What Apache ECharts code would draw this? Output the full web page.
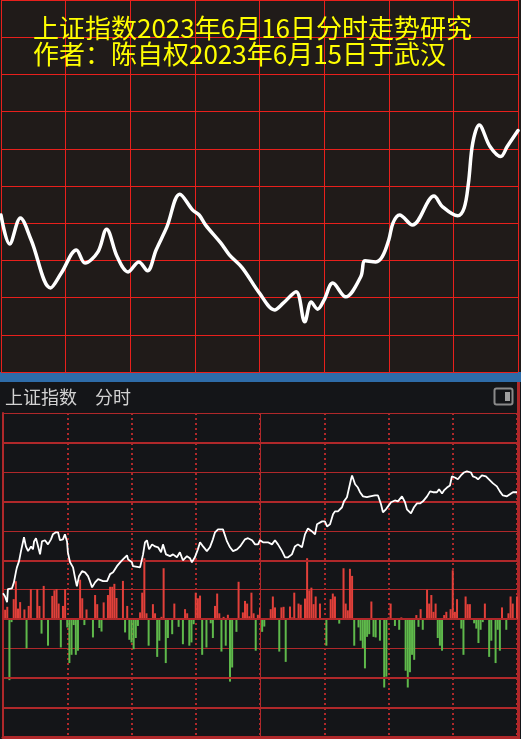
<!DOCTYPE html>
<html>
<head>
<meta charset="UTF-8" />
<title>上证指数分时</title>
<script src="https://cdn.jsdelivr.net/npm/echarts@6/dist/echarts.min.js"></script>
<style>
  html, body { margin: 0; padding: 0; background: #141518; }
  #chart { width: 521px; height: 739px; }
</style>
</head>
<body>
<div id="chart"></div>
<script>
// top panel: hand drawn forecast curve, [minute of session, level in grid rows]
const forecastPath = [
  [0,4.22],[4,3.44],[9,4.14],[14,3.55],[23,2.26],[28,2.66],[35,3.28],[39,2.93],[45,3.23],[49,3.84],
  [54,3.09],[59,2.69],[64,2.96],[68,2.72],[72,3.28],[77,3.90],[83,4.78],[89,4.35],[92,4.22],[95,3.95],
  [102,3.47],[106,3.15],[112,2.80],[120,2.12],[127,1.67],[131,1.85],[137,2.16],[141,1.35],[144,1.88],[147,1.69],
  [150,1.94],[154,2.39],[160,2.02],[167,2.56],[169,2.99],[174,2.96],[177,3.10],[180,3.55],[182,4.01],[185,4.22],
  [191,3.95],[201,4.73],[205,4.44],[212,4.20],[215,4.41],[217,5.08],[219,6.16],[222,6.64],[227,6.06],[232,5.79],
  [235,6.06],[240,6.49]
];

// bottom panel: actual minute line, [minute, level]
const pricePath = [
  [0,0.88],[0.9,0.78],[1.9,0.58],[2.3,1.02],[4.2,1.05],[5.1,1.25],[6.1,1.63],[6.5,1.76],[7.5,1.97],[8.4,2.31],
  [9.3,2.61],[9.8,2.78],[10.7,2.47],[11.7,2.31],[13.1,2.47],[14.0,2.37],[14.5,2.64],[15.4,2.75],[15.9,2.61],[17.3,2.20],
  [18.2,2.64],[19.6,2.68],[21.0,2.54],[22.4,2.71],[23.3,2.88],[24.7,2.95],[25.7,2.95],[26.6,2.68],[28.0,2.71],[28.9,2.88],
  [29.9,2.64],[30.3,2.27],[31.3,1.93],[32.7,1.76],[33.6,1.42],[34.5,1.12],[35.5,1.46],[36.9,1.63],[38.3,1.59],[39.7,1.46],
  [40.6,1.29],[41.6,1.08],[43.0,1.25],[44.4,1.36],[45.3,1.42],[46.7,1.29],[48.6,1.29],[50.0,1.53],[51.4,1.59],[53.2,1.80],
  [54.7,1.93],[56.0,2.03],[57.9,2.17],[58.4,2.03],[60.2,1.93],[60.7,1.80],[64.0,1.76],[65.4,2.20],[66.3,2.61],[67.2,2.68],
  [68.2,2.37],[69.6,2.54],[71.0,2.47],[72.4,2.44],[73.8,2.27],[74.7,2.54],[76.1,2.20],[78.0,2.14],[79.4,2.20],[81.2,2.10],
  [82.6,2.27],[84.0,2.00],[85.9,2.14],[87.3,2.07],[88.2,1.93],[89.6,2.10],[91.0,2.37],[92.0,2.61],[93.4,2.47],[95.2,2.31],
  [96.6,2.44],[98.0,2.71],[99.0,2.95],[100.4,3.05],[102.7,3.05],[104.6,2.64],[106.0,2.44],[107.4,2.31],[109.3,2.37],[110.7,2.47],
  [113.0,2.71],[114.4,2.75],[116.3,2.68],[117.7,2.54],[119.1,2.54],[120.0,2.68],[121.4,2.61],[123.7,2.61],[125.6,2.54],[127.0,2.68],
  [128.4,2.54],[130.3,2.31],[131.7,2.10],[133.1,2.10],[134.9,2.20],[136.3,2.47],[137.7,2.54],[139.6,2.44],[141.0,2.88],[142.4,3.08],
  [144.3,2.98],[145.7,2.88],[146.6,3.22],[149.0,3.32],[150.3,3.32],[151.3,3.15],[152.7,3.22],[154.1,3.56],[155.0,3.66],[156.4,3.66],
  [158.3,3.80],[159.2,4.00],[160.6,4.14],[161.5,4.20],[162.5,4.75],[163.0,4.88],[164.4,4.58],[165.7,4.47],[166.7,4.31],[168.1,4.17],
  [169.9,4.14],[171.4,4.17],[173.7,4.20],[175.1,4.20],[176.5,3.90],[177.4,3.63],[178.8,3.73],[179.8,3.83],[181.2,3.97],[183.0,4.03],
  [184.4,4.00],[186.3,4.17],[187.7,3.97],[188.6,3.73],[190.5,3.59],[191.9,3.80],[193.3,3.93],[194.7,3.93],[196.1,4.00],[198.0,4.17],
  [199.4,4.34],[200.8,4.31],[202.6,4.31],[203.6,4.41],[205.0,4.27],[205.9,4.37],[207.3,4.47],[208.7,4.54],[209.6,4.85],[211.0,4.81],
  [212.4,4.75],[213.8,4.88],[215.2,4.98],[216.6,5.02],[218.5,4.98],[219.4,4.85],[220.8,4.81],[221.8,4.75],[223.6,4.88],[225.5,4.85],
  [226.9,4.75],[228.8,4.61],[230.6,4.51],[232.0,4.34],[233.4,4.20],[235.3,4.17],[236.7,4.24],[238.1,4.31],[240,4.31]
];

// volume bars, [minute, height]; up minutes red, down minutes green
const upVolume = [
  [1,0.32],[2,0.42],[5,0.68],[6,1.29],[7,0.36],[8,0.58],[10,0.33],[12,0.45],[13,1.02],[16,1.02],
  [17,0.45],[19,1.13],[23,0.79],[24,0.98],[25,1.02],[26,0.53],[28,0.45],[29,1.02],[36,1.34],[37,0.71],
  [39,0.33],[43,0.82],[44,0.51],[47,0.57],[49,0.82],[50,1.1],[51,1.1],[52,1.2],[53,0.72],[56,1.3],
  [58,0.45],[64,0.23],[65,0.9],[66,2.07],[67,0.2],[70,0.51],[71,0.2],[74,0.08],[75,1.73],[80,0.53],
  [85,0.34],[86,0.2],[90,0.9],[91,0.71],[92,0.8],[99,0.45],[100,0.87],[101,0.2],[103,0.08],[105,0.15],
  [110,1.27],[112,0.23],[113,0.62],[114,0.53],[115,0.1],[116,0.9],[117,0.2],[119,0.15],[120,0.4],[125,0.34],
  [126,0.77],[127,0.4],[130,0.4],[131,0.42],[134,0.43],[135,0.06],[136,0.9],[138,0.53],[139,0.49],[141,0.7],
  [142,2.07],[143,0.98],[144,1.07],[145,0.51],[146,0.77],[148,0.53],[153,0.68],[154,0.87],[155,0.77],[159,1.73],
  [160,0.53],[161,0.3],[162,1.71],[163,1.47],[172,0.6],[180,0.06],[181,0.53],[186,0.06],[193,0.14],[195,0.34],
  [198,1.0],[199,0.53],[200,0.82],[201,0.25],[202,0.53],[206,0.14],[207,0.25],[209,0.34],[210,1.66],[211,0.25],
  [212,0.68],[216,0.77],[217,0.51],[218,0.51],[225,0.53],[233,0.4],[236,0.2],[237,0.77],[238,0.53],[240,0.77]
];
const downVolume = [
  [3,-2.07],[4,-0.1],[11,-0.99],[18,-0.49],[21,-0.9],[27,-0.96],[30,-0.28],[31,-1.49],[32,-1.21],[33,-0.2],
  [34,-1.21],[35,-1.07],[38,-0.2],[42,-0.62],[45,-0.3],[46,-0.42],[57,-0.45],[59,-0.7],[60,-0.79],[61,-1.02],
  [62,-0.64],[63,-0.23],[68,-0.9],[72,-1.28],[73,-0.73],[76,-1.49],[77,-0.64],[79,-0.51],[82,-0.26],[84,-0.85],
  [87,-0.9],[88,-0.79],[89,-0.17],[93,-1.21],[95,-0.96],[97,-0.14],[98,-0.64],[102,-1.1],[104,-0.9],[106,-2.12],
  [107,-1.64],[109,-0.43],[118,-1.07],[121,-0.43],[122,-0.25],[129,-1.1],[132,-1.45],[151,-0.9],[157,-0.15],[164,-0.9],
  [166,-0.28],[167,-0.73],[168,-0.98],[169,-1.67],[170,-0.6],[171,-0.51],[173,-0.6],[174,-0.62],[176,-0.73],[178,-2.32],
  [179,-1.95],[183,-0.23],[185,-0.36],[188,-1.75],[189,-2.32],[190,-1.8],[191,-1.21],[192,-1.38],[194,-0.26],[196,-0.36],
  [203,-0.64],[204,-0.9],[205,-1.07],[214,-0.32],[215,-1.21],[220,-0.14],[221,-0.32],[222,-0.81],[223,-0.36],[224,-0.1],
  [227,-1.28],[228,-0.73],[230,-1.49],[231,-0.36],[232,-1.07],[235,-0.36]
];

// heavier horizontal rules in the lower panel
const thickRows = [6, 4, 2, 0, -2, -3];

const titleLines = ['上证指数2023年6月16日分时走势研究', '作者：陈自权2023年6月15日于武汉'];
const panelCaption = '上证指数　分时';

const gridRed = '#e8201c';
const darkRed = '#b0282a';

let myChart = echarts.init(document.getElementById('chart'));

let volumeData = upVolume.concat(downVolume).map(p => ({
  value: p,
  itemStyle: { color: p[1] >= 0 ? '#e2403a' : '#5fb94b' }
}));

myChart.setOption({
  backgroundColor: '#141518',
  animation: false,
  title: [
    {
      text: titleLines.join('\n'),
      left: 33, top: 15, padding: 0,
      textStyle: { color: '#ffff00', fontSize: 26, fontWeight: 'normal', lineHeight: 26,
        fontFamily: '"Noto Sans CJK SC", sans-serif' }
    },
    {
      text: panelCaption,
      left: 5, top: 388, padding: 0,
      textStyle: { color: '#d2d2d2', fontSize: 18, fontWeight: 'normal', lineHeight: 18,
        fontFamily: '"Noto Sans CJK SC", sans-serif' }
    }
  ],
  graphic: [
    { type: 'rect', z: -10, silent: true, shape: { x: 0, y: 0, width: 521, height: 372 }, style: { fill: '#201b19' } },
    { type: 'rect', silent: true, shape: { x: 0, y: 372, width: 521, height: 10 }, style: { fill: '#2e6ca9' } },
    { type: 'rect', silent: true, shape: { x: 517, y: 382, width: 3, height: 357 }, style: { fill: darkRed } },
    { type: 'rect', silent: true, shape: { x: 494.5, y: 388.5, width: 18, height: 16, r: 2 },
      style: { fill: 'none', stroke: '#8a8a8a', lineWidth: 2 } },
    { type: 'rect', silent: true, shape: { x: 505, y: 392, width: 5, height: 9 }, style: { fill: '#a0a0a0' } }
  ],
  grid: [
    { left: 1, top: 0, width: 517, height: 372 },
    { left: 3, top: 413, width: 514, height: 324 }
  ],
  xAxis: [
    {
      gridIndex: 0, type: 'value', min: 0, max: 240, interval: 30,
      axisLine: { show: false }, axisTick: { show: false }, axisLabel: { show: false },
      splitLine: { show: true, lineStyle: { color: gridRed, width: 1 } }
    },
    {
      gridIndex: 1, type: 'value', min: 0, max: 240, interval: 30,
      axisLine: { show: true, onZero: false, lineStyle: { color: darkRed, width: 3 } },
      axisTick: { show: false }, axisLabel: { show: false },
      splitLine: { show: true, lineStyle: { color: darkRed, width: 2, type: [2, 3] } }
    }
  ],
  yAxis: [
    {
      gridIndex: 0, type: 'value', min: 0, max: 10, interval: 1,
      axisLine: { show: false }, axisTick: { show: false }, axisLabel: { show: false },
      splitLine: { show: true, lineStyle: { color: gridRed, width: 1 } }
    },
    {
      gridIndex: 1, type: 'value', min: -4, max: 7, interval: 1,
      axisLine: { show: true, onZero: false, lineStyle: { color: darkRed, width: 2 } },
      axisTick: { show: false }, axisLabel: { show: false },
      splitLine: { show: true, lineStyle: { color: darkRed, width: 1 } }
    }
  ],
  series: [
    {
      name: '预测',
      type: 'line',
      xAxisIndex: 0, yAxisIndex: 0,
      data: forecastPath,
      smooth: 0.35,
      showSymbol: false,
      lineStyle: { color: '#ffffff', width: 3.5, cap: 'round', join: 'round' },
      z: 5
    },
    {
      name: '成交量',
      type: 'bar',
      xAxisIndex: 1, yAxisIndex: 1,
      data: volumeData,
      barWidth: 2,
      z: 2,
      markLine: {
        silent: true, symbol: 'none', label: { show: false },
        lineStyle: { color: darkRed, type: 'solid', width: 2 },
        data: thickRows.map(v => ({ yAxis: v })).concat([{ xAxis: 120, lineStyle: { width: 1 } }])
      }
    },
    {
      name: '上证指数',
      type: 'line',
      xAxisIndex: 1, yAxisIndex: 1,
      data: pricePath,
      showSymbol: false,
      lineStyle: { color: '#ffffff', width: 1.8 },
      z: 6
    }
  ]
});
</script>
</body>
</html>
